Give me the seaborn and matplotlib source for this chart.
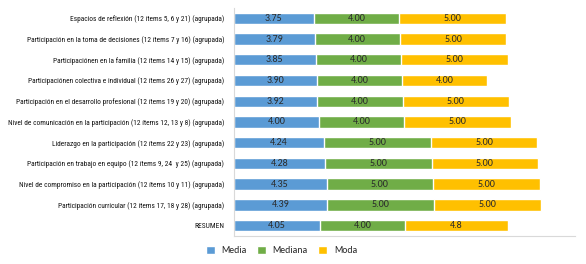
import numpy as np
import pandas as pd
import matplotlib
matplotlib.use("Agg")
import matplotlib.pyplot as plt
import seaborn as sns
from matplotlib.patches import Patch

# -------------------------------
# Data
# -------------------------------
categories = [
    "Espacios de reflexión (12 ítems 5, 6 y 21) (agrupada)",
    "Participación en la toma de decisiones (12 ítems 7 y 16) (agrupada)",
    "Participaciónen en la familia (12 ítems 14 y 15) (agrupada)",
    "Participaciónen colectiva e individual (12 ítems 26 y 27) (agrupada)",
    "Participación en el desarrollo profesional (12 ítems 19 y 20) (agrupada)",
    "Nivel de comunicación en la participación (12 ítems 12, 13 y 8) (agrupada)",
    "Liderazgo en la participación (12 ítems 22 y 23) (agrupada)",
    "Participación en trabajo en equipo (12 ítems 9, 24  y 25) (agrupada)",
    "Nivel de compromiso en la participación (12 ítems 10 y 11) (agrupada)",
    "Participación curricular (12 ítems 17, 18 y 28) (agrupada)",
    "RESUMEN",
]
media = [3.75, 3.79, 3.85, 3.90, 3.92, 4.00, 4.24, 4.28, 4.35, 4.39, 4.05]
mediana = [4.00, 4.00, 4.00, 4.00, 4.00, 4.00, 5.00, 5.00, 5.00, 5.00, 4.00]
moda = [5.00, 5.00, 5.00, 4.00, 5.00, 5.00, 5.00, 5.00, 5.00, 5.00, 4.8]
moda_labels = ["5.00", "5.00", "5.00", "4.00", "5.00", "5.00",
               "5.00", "5.00", "5.00", "5.00", "4.8"]

series = ["Media", "Mediana", "Moda"]
colors = {"Media": "#5B9BD5", "Mediana": "#70AD47", "Moda": "#FFC000"}

df = pd.DataFrame({"cat": categories, "Media": media,
                   "Mediana": mediana, "Moda": moda})
df["c1"] = df["Media"]
df["c2"] = df["Media"] + df["Mediana"]
df["c3"] = df["c2"] + df["Moda"]

sns.set_style("white")
plt.rcParams["font.family"] = ["Roboto Condensed", "Barlow Semi Condensed", "DejaVu Sans"]
value_font = ["Carlito", "Open Sans", "DejaVu Sans"]

fig = plt.figure(figsize=(5.86, 2.64), dpi=100)
ax = fig.add_axes([0.399, 0.106, 0.582, 0.864])

# stacked bars: draw cumulative totals back to front
for col, s in [("c3", "Moda"), ("c2", "Mediana"), ("c1", "Media")]:
    sns.barplot(data=df, x=col, y="cat", orient="h", color=colors[s],
                width=0.55, saturation=1, ax=ax)

# value labels centred in each segment
for i in range(len(categories)):
    starts = [0, df["c1"][i], df["c2"][i]]
    vals = [media[i], mediana[i], moda[i]]
    txts = [f"{media[i]:.2f}", f"{mediana[i]:.2f}", moda_labels[i]]
    for st, v, t in zip(starts, vals, txts):
        ax.text(st + v / 2, i, t, ha="center", va="center",
                fontsize=7.2, color="#2b2b2b", family=value_font)

ax.set_xlim(0, 16)
ax.set_xlabel("")
ax.set_ylabel("")
ax.set_xticks([])
ax.tick_params(axis="y", length=0, labelsize=5.3, pad=7, colors="#111111")
for sp in ["top", "right"]:
    ax.spines[sp].set_visible(False)
ax.spines["left"].set_color("#d9d9d9")
ax.spines["bottom"].set_color("#d9d9d9")
ax.spines["left"].set_linewidth(0.8)
ax.spines["bottom"].set_linewidth(0.8)

handles = [Patch(facecolor=colors[s], label=s) for s in series]
fig.legend(handles=handles, loc="lower center", bbox_to_anchor=(0.48, 0.0),
           ncol=3, frameon=False, handlelength=0.95, handleheight=0.95,
           columnspacing=1.0, handletextpad=0.7,
           prop={"family": value_font, "size": 7})

fig.savefig("out.png", dpi=100)
